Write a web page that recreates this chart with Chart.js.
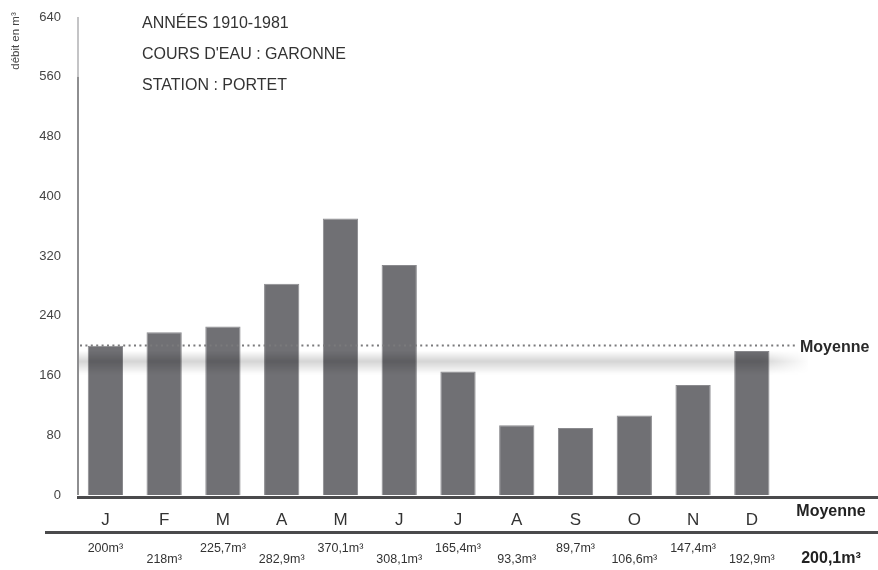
<!DOCTYPE html>
<html>
<head>
<meta charset="utf-8">
<script src="https://cdn.jsdelivr.net/npm/chart.js@4"></script>
<style>
  body { margin: 0; background: #fff; }
  canvas { display: block; }
</style>
</head>
<body>
<canvas id="debitChart" width="878" height="570"></canvas>
<script>
const months = ["J", "F", "M", "A", "M", "J", "J", "A", "S", "O", "N", "D", "Moyenne"];
const debits = [200, 218, 225.7, 282.9, 370.1, 308.1, 165.4, 93.3, 89.7, 106.6, 147.4, 192.9, null];
const debitLabels = ["200m³", "218m³", "225,7m³", "282,9m³", "370,1m³", "308,1m³", "165,4m³", "93,3m³", "89,7m³", "106,6m³", "147,4m³", "192,9m³", "200,1m³"];
const moyenne = 200.1;
const yMax = 640;
const yStep = 80;
const infoLines = ["ANNÉES 1910-1981", "COURS D'EAU : GARONNE", "STATION : PORTET"];

const FONT = "'Liberation Sans', Arial, sans-serif";
const last = months.length - 1;

const decorPlugin = {
  id: "decor",
  beforeDatasetsDraw(chart) {
    const ctx = chart.ctx;
    const area = chart.chartArea;
    const y = chart.scales.y;
    ctx.save();
    // axe vertical
    ctx.lineWidth = 2;
    ctx.strokeStyle = "#c4c4c6";
    ctx.beginPath();
    ctx.moveTo(area.left + 2, y.getPixelForValue(640));
    ctx.lineTo(area.left + 2, y.getPixelForValue(560));
    ctx.stroke();
    ctx.strokeStyle = "#8e8e90";
    ctx.beginPath();
    ctx.moveTo(area.left + 2, y.getPixelForValue(560));
    ctx.lineTo(area.left + 2, y.getPixelForValue(0));
    ctx.stroke();
    ctx.restore();
  },
  afterDatasetsDraw(chart) {
    const ctx = chart.ctx;
    const area = chart.chartArea;
    const x = chart.scales.x;
    const y = chart.scales.y;
    const W = chart.width;
    ctx.save();

    // bande grise floue sous la moyenne
    const yLine = y.getPixelForValue(moyenne);
    const bandTop = yLine + 5;
    const bandH = 24;
    const off = document.createElement("canvas");
    off.width = W;
    off.height = bandH;
    const octx = off.getContext("2d");
    const g = octx.createLinearGradient(0, 0, 0, bandH);
    g.addColorStop(0, "rgba(0,0,0,0)");
    g.addColorStop(0.45, "rgba(0,0,0,0.17)");
    g.addColorStop(1, "rgba(0,0,0,0)");
    octx.fillStyle = g;
    octx.fillRect(area.left + 3, 0, 805 - area.left, bandH);
    octx.globalCompositeOperation = "destination-out";
    const fade = octx.createLinearGradient(760, 0, 810, 0);
    fade.addColorStop(0, "rgba(0,0,0,0)");
    fade.addColorStop(1, "rgba(0,0,0,1)");
    octx.fillStyle = fade;
    octx.fillRect(760, 0, 60, bandH);
    ctx.drawImage(off, 0, bandTop);

    // ligne pointillée de la moyenne
    ctx.strokeStyle = "#7a7a7c";
    ctx.lineWidth = 2;
    ctx.setLineDash([2, 3.4]);
    ctx.beginPath();
    ctx.moveTo(area.left + 4, yLine);
    ctx.lineTo(795, yLine);
    ctx.stroke();
    ctx.setLineDash([]);
    ctx.fillStyle = "#2a2a2a";
    ctx.font = "bold 16px " + FONT;
    ctx.textAlign = "left";
    ctx.textBaseline = "middle";
    ctx.fillText("Moyenne", 800, yLine + 2);

    // axe horizontal et ligne inférieure
    const y0 = y.getPixelForValue(0);
    ctx.fillStyle = "#4a4a4c";
    ctx.fillRect(area.left + 1, y0 + 1, W - area.left, 3);
    ctx.fillRect(45, 531, W - 45, 3);

    // libellé de la dernière catégorie
    ctx.textAlign = "center";
    ctx.fillStyle = "#222";
    ctx.font = "bold 16px " + FONT;
    ctx.fillText(months[last], 831, 512);

    // valeurs mensuelles
    debitLabels.forEach((lab, i) => {
      const px = x.getPixelForValue(i);
      if (i === last) {
        ctx.font = "bold 16px " + FONT;
        ctx.fillStyle = "#222";
        ctx.fillText(lab, 831, 559);
      } else {
        ctx.font = "12.5px " + FONT;
        ctx.fillStyle = "#333";
        ctx.fillText(lab, px, i % 2 === 0 ? 549 : 560);
      }
    });

    // texte d'information
    ctx.font = "16px " + FONT;
    ctx.fillStyle = "#333";
    ctx.textAlign = "left";
    infoLines.forEach((t, i) => {
      ctx.fillText(t, 142, 24 + i * 31);
    });

    // titre de l'axe vertical
    ctx.translate(16, 41);
    ctx.rotate(-Math.PI / 2);
    ctx.font = "11.5px " + FONT;
    ctx.fillStyle = "#444";
    ctx.textAlign = "center";
    ctx.fillText("débit en m³", 0, 0);
    ctx.restore();
  }
};

new Chart(document.getElementById("debitChart"), {
  type: "bar",
  data: {
    labels: months,
    datasets: [{
      data: debits,
      backgroundColor: "#707074",
      borderColor: "#8a8a8e",
      borderWidth: 1,
      borderSkipped: "bottom",
      barPercentage: 0.6,
      categoryPercentage: 1
    }]
  },
  options: {
    responsive: false,
    animation: false,
    layout: { padding: { top: 17, right: 38, left: 0, bottom: 0 } },
    plugins: {
      legend: { display: false },
      tooltip: { enabled: false }
    },
    scales: {
      x: {
        grid: { display: false },
        border: { display: false },
        afterFit: (scale) => { scale.height = 75; },
        ticks: {
          padding: 7,
          maxRotation: 0,
          autoSkip: false,
          callback: (v, i) => i === last ? "" : months[i],
          color: "#333",
          font: { family: FONT, size: 17 }
        }
      },
      y: {
        min: 0,
        max: yMax,
        grid: { display: false },
        border: { display: false },
        afterFit: (scale) => { scale.width = 76; },
        ticks: {
          stepSize: yStep,
          padding: 7,
          color: "#444",
          font: { family: FONT, size: 13 }
        }
      }
    }
  },
  plugins: [decorPlugin]
});
</script>
</body>
</html>
